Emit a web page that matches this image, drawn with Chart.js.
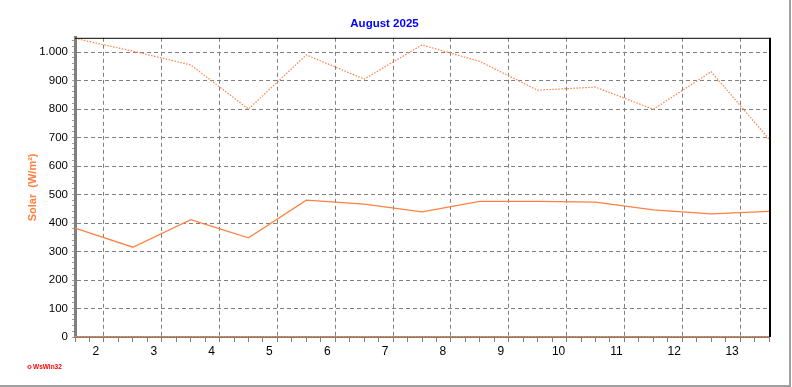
<!DOCTYPE html>
<html>
<head>
<meta charset="utf-8">
<script src="https://cdn.jsdelivr.net/npm/chart.js@4"></script>
<style>
  html, body { margin: 0; padding: 0; background: #fff; }
  #wrap { width: 792px; height: 387px; }
</style>
</head>
<body>
<div id="wrap"><canvas id="myChart"></canvas></div>
<script>
const days = ['2', '3', '4', '5', '6', '7', '8', '9', '10', '11', '12', '13'];
const solarMax = [1048, 1003, 955, 800, 990, 905, 1025, 967, 866, 877, 799, 931, 695];
const solarAvg = [382, 315, 412, 348, 480, 466, 439, 476, 476, 473, 446, 432, 441];
const solarMin = [0, 0, 0, 0, 0, 0, 0, 0, 0, 0, 0, 0, 0];
const yLabels = ['0', '100', '200', '300', '400', '500', '600', '700', '800', '900', '1.000'];

const orange = 'rgb(255, 128, 64)';
const gridGray = '#808080';

function points(values) {
    return values.map((v, i) => ({ x: i, y: v }));
}

const framePlugin = {
    id: 'frame',
    beforeDraw(chart) {
        const c = chart.ctx;
        c.save();
        c.fillStyle = '#fff';
        c.fillRect(0, 0, chart.width, chart.height);
        c.strokeStyle = '#a0a0a0';
        c.lineWidth = 2;
        c.beginPath();
        c.moveTo(0, 386);
        c.lineTo(790, 386);
        c.lineTo(790, 0);
        c.stroke();
        c.restore();
    },
    afterDraw(chart) {
        const a = chart.chartArea;
        const c = chart.ctx;
        c.save();
        c.strokeStyle = '#000';
        c.lineWidth = 1;
        c.beginPath();
        c.moveTo(a.left, a.top + 0.5);
        c.lineTo(a.right + 0.5, a.top + 0.5);
        c.stroke();
        c.lineWidth = 2;
        c.beginPath();
        c.moveTo(a.right + 1, a.top);
        c.lineTo(a.right + 1, a.bottom);
        c.stroke();
        // WsWin32 logo
        c.fillStyle = '#ff0000';
        c.strokeStyle = '#ff0000';
        c.lineWidth = 1;
        c.beginPath();
        c.arc(29.5, 367, 1.6, 0, Math.PI * 2);
        c.stroke();
        c.font = 'bold 6.5px "Liberation Sans", Arial, sans-serif';
        c.textBaseline = 'middle';
        c.fillText('WsWin32', 33, 367.5);
        c.restore();
    }
};

const ctx = document.getElementById('myChart');

new Chart(ctx, {
    type: 'line',
    data: {
        datasets: [{
            label: 'Max',
            data: points(solarMax),
            borderColor: orange,
            borderWidth: 1.2,
            borderDash: [1.5, 1.5],
            pointRadius: 0,
            tension: 0
        }, {
            label: 'Avg',
            data: points(solarAvg),
            borderColor: orange,
            borderWidth: 1.3,
            pointRadius: 0,
            tension: 0
        }, {
            label: 'Min',
            data: points(solarMin),
            borderColor: orange,
            borderWidth: 2,
            borderDash: [2, 1],
            pointRadius: 0,
            tension: 0
        }]
    },
    options: {
        responsive: true,
        maintainAspectRatio: false,
        animation: false,
        layout: {
            padding: { top: 0, right: 23, bottom: 0, left: 0 }
        },
        plugins: {
            legend: { display: false },
            tooltip: { enabled: false },
            title: {
                display: true,
                text: 'August 2025',
                color: '#0000ff',
                font: { size: 11.5, weight: 'bold', family: "'Liberation Sans', Arial, sans-serif" },
                padding: { top: 17, bottom: 7 }
            }
        },
        scales: {
            x: {
                type: 'linear',
                min: 0,
                max: 12,
                afterBuildTicks(scale) {
                    const t = [];
                    for (let i = 0; i <= 48; i++) t.push({ value: i / 4 });
                    scale.ticks = t;
                },
                afterFit(scale) { scale.height = 50; },
                ticks: {
                    autoSkip: false,
                    maxRotation: 0,
                    labelOffset: -8,
                    padding: 2,
                    color: '#000',
                    font: { size: 12, family: "'Liberation Sans', Arial, sans-serif" },
                    callback(value) {
                        const d = value - 0.5;
                        return Number.isInteger(d) && d >= 0 && d < days.length ? days[d] : '';
                    }
                },
                grid: {
                    color(c) {
                        return c.tick && Number.isInteger(c.tick.value - 0.5) ? gridGray : 'rgba(0,0,0,0)';
                    },
                    tickColor: gridGray,
                    tickLength: 5,
                    lineWidth: 1
                },
                border: { color: gridGray, width: 2, dash: [4, 3] }
            },
            y: {
                min: 0,
                max: 1050,
                afterBuildTicks(scale) {
                    const t = [];
                    for (let v = 0; v <= 1040; v += 20) t.push({ value: v });
                    scale.ticks = t;
                },
                afterFit(scale) { scale.width = 75; },
                ticks: {
                    autoSkip: false,
                    padding: 4,
                    color: '#000',
                    font: { size: 11.5, family: "'Liberation Sans', Arial, sans-serif" },
                    callback(value) {
                        return value % 100 === 0 ? yLabels[value / 100] : '';
                    }
                },
                grid: {
                    color(c) {
                        return c.tick && c.tick.value % 100 === 0 && c.tick.value > 0 ? gridGray : 'rgba(0,0,0,0)';
                    },
                    tickColor: '#a0a0a0',
                    tickLength: 3,
                    lineWidth: 1
                },
                border: { color: gridGray, width: 3, dash: [4, 3] },
                title: {
                    display: true,
                    text: 'Solar  (W/m²)',
                    color: orange,
                    font: { size: 11, weight: 'bold', family: "'Liberation Sans', Arial, sans-serif" },
                    padding: { top: 26, bottom: 0 }
                }
            }
        }
    },
    plugins: [framePlugin]
});
</script>
</body>
</html>
